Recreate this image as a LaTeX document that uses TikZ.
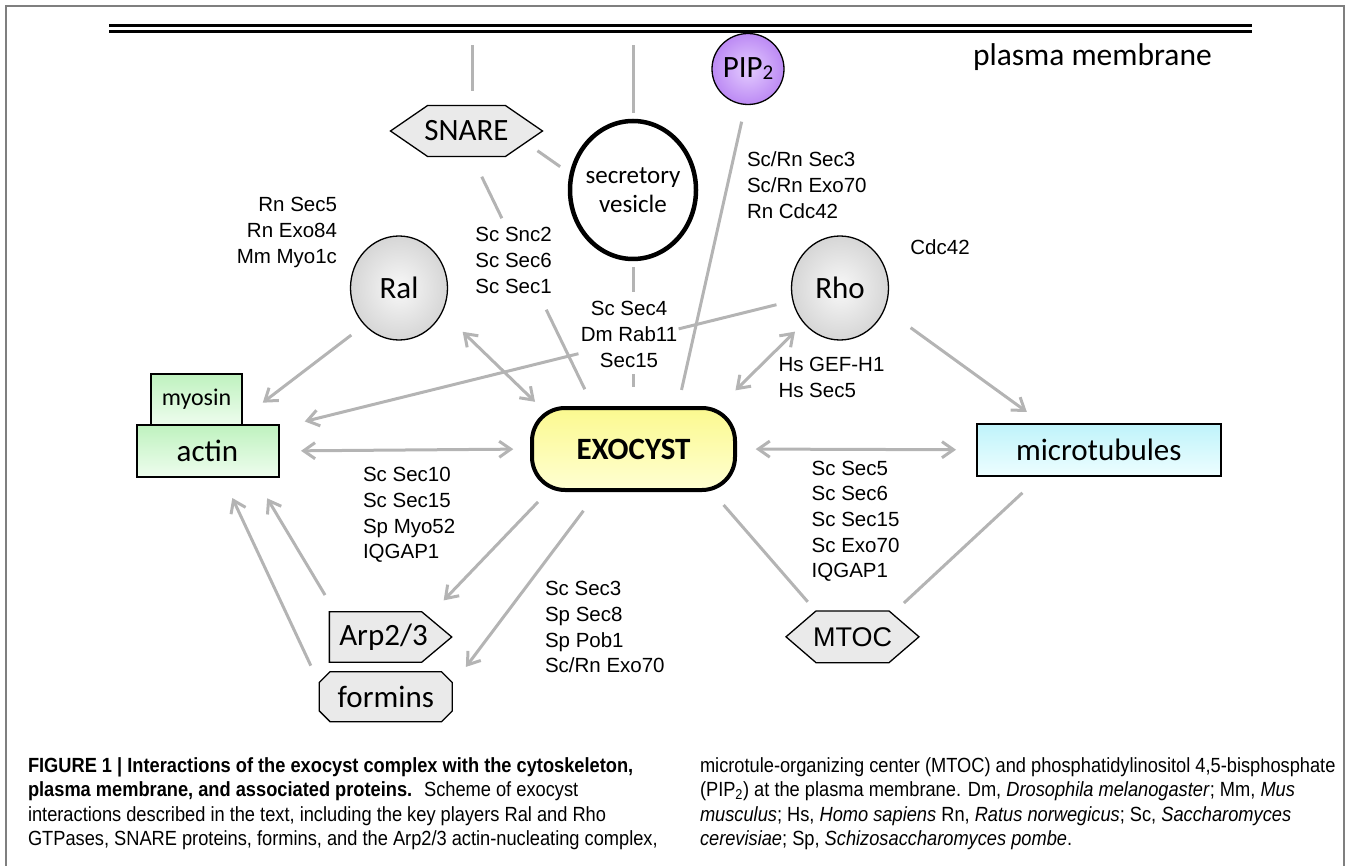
\documentclass[tikz,border=0pt]{standalone}
\usepackage{fontspec}
\setmainfont{Liberation Sans}
\newfontfamily\calfont{Carlito}
\newfontfamily\capfam[FakeStretch=0.89]{Liberation Sans}
\usetikzlibrary{shapes.geometric,shapes.symbols,shapes.misc,arrows.meta,calc}
\definecolor{connc}{HTML}{B4B4B4}
\definecolor{shapegray}{HTML}{EAEAEA}
\definecolor{framecol}{HTML}{7F7F7F}
\definecolor{pipin}{HTML}{E4CCFF}
\definecolor{pipout}{HTML}{BC8AF4}
\definecolor{ballin}{HTML}{F8F8F8}
\definecolor{ballout}{HTML}{D6D6D6}
\definecolor{greentop}{HTML}{BFF2BF}
\definecolor{greenbot}{HTML}{EEFDEE}
\definecolor{cyantop}{HTML}{BFF3FA}
\definecolor{cyanbot}{HTML}{EDFEFF}
\definecolor{yeltop}{HTML}{FBF98F}
\definecolor{yelbot}{HTML}{FFFFD2}
\newcommand{\labstack}[2]{\begin{tabular}[t]{@{}#1@{}}#2\end{tabular}}
\begin{document}
\begin{tikzpicture}[x=1pt,y=-1pt,
  every node/.style={outer sep=0pt, inner sep=0pt},
  conn/.style={draw=connc, line width=3pt},
  arr/.style={conn, -{Straight Barb[angle=70:14pt]}},
  darr/.style={conn, {Straight Barb[angle=70:14pt]}-{Straight Barb[angle=70:14pt]}},
  lbl/.style={font=\fontsize{20.5}{25.7}\selectfont},
  cal/.style={font=\calfont\fontsize{31}{37}\selectfont},
  grayshape/.style={draw=black, line width=1.3pt, fill=shapegray},
  ball/.style={ellipse, draw=black, line width=1.3pt, shade, shading=radial, inner color=ballin, outer color=ballout},
  greenbox/.style={draw=black, line width=2pt, top color=greentop, bottom color=greenbot},
  capfont/.style={font=\capfam\fontsize{20.5}{24.5}\selectfont}
]
\useasboundingbox (0,0) rectangle (1349,866);
% frame
\draw[framecol, line width=2pt] (6,866) -- (6,6) -- (1344,6) -- (1344,866);

% plasma membrane
\node[minimum width=1143pt, minimum height=6pt] (mem) at (680.5,28.6) {};
\draw[line width=3pt] (mem.north west) -- (mem.north east);
\draw[line width=3pt] (mem.south west) -- (mem.south east);
\node[anchor=base west, font=\calfont\fontsize{31.5}{37}\selectfont] (pm) at (973,66) {plasma membrane};

% nodes
\node[ellipse, minimum width=72pt, minimum height=71pt, draw=black, line width=1.3pt, shade, shading=radial, inner color=pipin, outer color=pipout,
  label={[cal]center:PIP\raisebox{-2pt}{\fontsize{21}{21}\selectfont 2}}] (pip) at (748,69) {};
\node[signal, signal to=east and west, signal pointer angle=69, minimum width=152pt, minimum height=51pt, grayshape, cal] (snare) at (466.5,131) {\makebox[0pt]{SNARE}};
\node[ellipse, minimum width=126pt, minimum height=138pt, draw=black, line width=4.5pt, fill=white,
  label={[font=\calfont\fontsize{25}{29}\selectfont, align=center]center:secretory\\vesicle}] (ves) at (633,190) {};
\node[ball, minimum width=97pt, minimum height=104pt, cal] (ral) at (399,288) {Ral};
\node[ball, minimum width=97pt, minimum height=104pt, cal] (rho) at (840,288) {Rho};
\node[rectangle, rounded corners=33pt, minimum width=203pt, minimum height=82pt, draw=black, line width=4pt,
  top color=yeltop, bottom color=yelbot, font=\calfont\bfseries\fontsize{31}{37}\selectfont] (exo) at (633.5,449) {EXOCYST};
\node[greenbox, minimum width=91pt, minimum height=51pt, font=\calfont\fontsize{24}{28}\selectfont] (myo) at (196.5,399.5) {myosin};
\node[greenbox, minimum width=142pt, minimum height=52pt, cal] (actin) at (207.5,451) {actin};
\node[draw=black, line width=2pt, top color=cyantop, bottom color=cyanbot, minimum width=244.5pt, minimum height=51.5pt, cal] (mt) at (1098.8,449.8) {microtubules};
\node[signal, signal to=east, signal pointer angle=80, minimum width=122.4pt, minimum height=50.6pt, grayshape, cal] (arp) at (375.5,637) {\makebox[0pt]{\hspace{16pt}Arp2/3}};
\node[chamfered rectangle, chamfered rectangle xsep=14pt, chamfered rectangle ysep=14pt, minimum width=133pt, minimum height=50pt, grayshape, cal] (form) at (385.8,696.7) {\makebox[0pt]{formins}};
\node[signal, signal to=east and west, signal pointer angle=81.5, minimum width=133pt, minimum height=51.7pt, grayshape, font=\fontsize{27}{32}\selectfont] (mtoc) at (852.5,636.8) {\makebox[0pt]{MTOC}};

% labels
\node[lbl, anchor=base east] (lral) at (337,212) {\labstack{r}{Rn Sec5\\Rn Exo84\\Mm Myo1c}};
\node[lbl, anchor=base west] (lsnc) at (475.4,242) {\labstack{l}{Sc Snc2\\Sc Sec6\\Sc Sec1}};
\node[lbl, anchor=base] (lsec4) at (629,316) {\labstack{c}{Sc Sec4\\Dm Rab11\\Sec15}};
\node[lbl, anchor=base west] (lpip) at (747,166.7) {\labstack{l}{Sc/Rn Sec3\\Sc/Rn Exo70\\Rn Cdc42}};
\node[lbl, anchor=base west] (lcdc) at (910.4,255) {Cdc42};
\node[lbl, anchor=base west] (lgef) at (778.5,371.7) {\labstack{l}{Hs GEF-H1\\Hs Sec5}};
\node[lbl, anchor=base west] (lact) at (363,481.7) {\labstack{l}{Sc Sec10\\Sc Sec15\\Sp Myo52\\IQGAP1}};
\node[lbl, anchor=base west] (lmt) at (811.7,475) {\labstack{l}{Sc Sec5\\Sc Sec6\\Sc Sec15\\Sc Exo70\\IQGAP1}};
\node[lbl, anchor=base west] (larp) at (545,595.7) {\labstack{l}{Sc Sec3\\Sp Sec8\\Sp Pob1\\Sc/Rn Exo70}};

% connectors
\draw[conn, shorten <=14.8pt, shorten >=13.2pt] ([xshift=5.5pt]snare.north) -- ([xshift=5.5pt]snare.north |- mem.south);
\draw[conn, shorten <=8.3pt, shorten >=13.2pt] (ves.north) -- (ves.north |- mem.south);
\draw[conn, shorten <=14.3pt, shorten >=14pt] (snare.-11.5) -- (ves.166);
\draw[conn, shorten <=22.5pt, shorten >=20.8pt, dash pattern=on 46.1pt off 101.7pt on 300pt] (snare.-78.3) -- (exo.134.6);
\draw[conn, shorten <=8pt, shorten >=21.3pt, dash pattern=on 25pt off 82.3pt on 200pt] (ves.south) -- (ves.south |- exo.north);
\draw[conn, shorten <=17.7pt, shorten >=18.5pt] (pip.266) -- (exo.43.4);
\draw[arr, shorten <=17pt, shorten >=27pt, dash pattern=on 100.8pt off 103.2pt on 400pt] (rho.195.6) -- (actin.18.6);
\draw[arr, shorten <=16.9pt, shorten >=36.8pt] (ral.227.5) -- (actin.45.2);
\draw[darr, shorten <=28.6pt, shorten >=8.9pt] (ral.-29.3) -- (exo.156.6);
\draw[darr, shorten <=12.6pt, shorten >=25.1pt] (rho.224.4) -- (exo.26.8);
\draw[arr, shorten <=32.3pt, shorten >=20.7pt] (rho.-25.4) -- (mt.155.6);
\draw[darr, shorten <=22.5pt, shorten >=18.7pt] (actin.east) -- (exo.west);
\draw[darr, shorten <=20.7pt, shorten >=20.5pt] (exo.east) -- (mt.west);
\draw[arr, shorten <=16.5pt, shorten >=22.9pt] (exo.206.8) -- (arp.21.8);
\draw[arr, shorten <=26pt, shorten >=22.6pt] (exo.230) -- (form.10.4);
\draw[arr, shorten <=19.4pt, shorten >=24.8pt] (arp.148.7) -- (actin.-29.2);
\draw[arr, shorten <=20pt, shorten >=23.2pt] (form.169.7) -- (actin.-60.7);
\draw[conn, shorten <=19.8pt, shorten >=12.3pt] (exo.-28.2) -- (mtoc.145.9);
\draw[conn, shorten <=25.3pt, shorten >=15.8pt] (mt.204.5) -- (mtoc.30.5);

% caption
\node[capfont, anchor=base west] (capl) at (28,772) {\labstack{l}{%
\textbf{FIGURE 1 | Interactions of the exocyst complex with the cytoskeleton,}\\
\textbf{plasma membrane, and associated proteins.}~ Scheme of exocyst\\
interactions described in the text, including the key players Ral and Rho\\
GTPases, SNARE proteins, formins, and the Arp2/3 actin-nucleating complex,}};
\node[capfont, anchor=base west] (capr) at (700,772) {\labstack{l}{%
microtule-organizing center (MTOC) and phosphatidylinositol 4,5-bisphosphate\\
(PIP\textsubscript{2}) at the plasma membrane. Dm, \textit{Drosophila melanogaster}; Mm, \textit{Mus}\\
\textit{musculus}; Hs, \textit{Homo sapiens} Rn, \textit{Ratus norwegicus}; Sc, \textit{Saccharomyces}\\
\textit{cerevisiae}; Sp, \textit{Schizosaccharomyces pombe}.}};
\end{tikzpicture}
\end{document}
